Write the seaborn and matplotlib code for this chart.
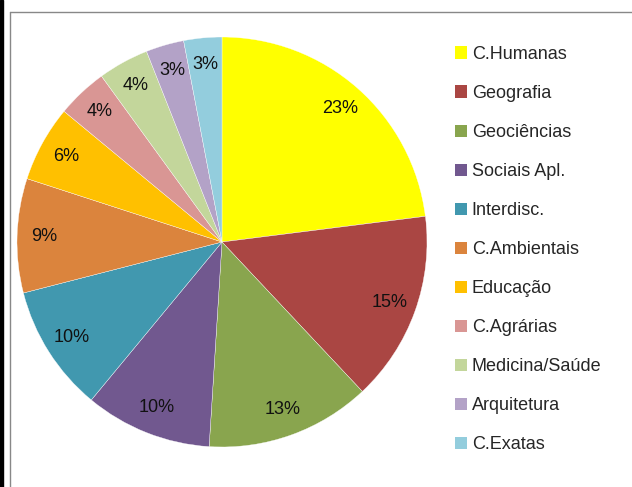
import matplotlib
matplotlib.use("Agg")
import matplotlib.pyplot as plt
import matplotlib.patches as mpatches
from matplotlib.lines import Line2D
import seaborn as sns

areas = ["C.Humanas", "Geografia", "Geociências", "Sociais Apl.", "Interdisc.",
         "C.Ambientais", "Educação", "C.Agrárias", "Medicina/Saúde",
         "Arquitetura", "C.Exatas"]
shares = [23, 15, 13, 10, 10, 9, 6, 4, 4, 3, 3]
colors = ["#FFFF00", "#AA4643", "#89A54E", "#71588F", "#4198AF", "#DB843D",
          "#FFC000", "#D99694", "#C3D69B", "#B3A2C7", "#93CDDD"]

sns.set_style("white")
plt.rcParams["font.family"] = ["Liberation Sans", "DejaVu Sans"]

fig = plt.figure(figsize=(6.32, 4.87), dpi=100)
W, H = 632, 487

# pie axes: centre (222, 242), radius 205 px
ax = fig.add_axes([17 / W, (H - 447) / H, 410 / W, 410 / H])
wedges, texts, autotexts = ax.pie(
    shares, colors=colors, startangle=90, counterclock=False,
    autopct=lambda p: f"{p:.0f}%", pctdistance=0.87,
    wedgeprops={"edgecolor": "white", "linewidth": 0.25},
    textprops={"fontsize": 13, "color": "#111111"})
ax.set_aspect("equal")
ax.set_xlim(-1, 1)
ax.set_ylim(-1, 1)
ax.axis("off")

handles = [mpatches.Patch(facecolor=c, edgecolor="none") for c in colors]
fig.legend(handles, areas, loc="upper left",
           bbox_to_anchor=(455 / W, (H - 46) / H), frameon=False,
           fontsize=13, handlelength=0.68, handleheight=0.68,
           handletextpad=0.25, labelspacing=1.22, borderaxespad=0,
           borderpad=0)

# chart frame lines
fig.add_artist(Line2D([10 / W, 1], [(H - 12) / H] * 2, color="#888888", lw=1))
fig.add_artist(Line2D([10 / W] * 2, [0, (H - 12) / H], color="#888888", lw=1))
fig.add_artist(mpatches.Rectangle((0, 0), 3 / W, 1, color="black",
                                  transform=fig.transFigure))

fig.savefig("out.png", dpi=100)
